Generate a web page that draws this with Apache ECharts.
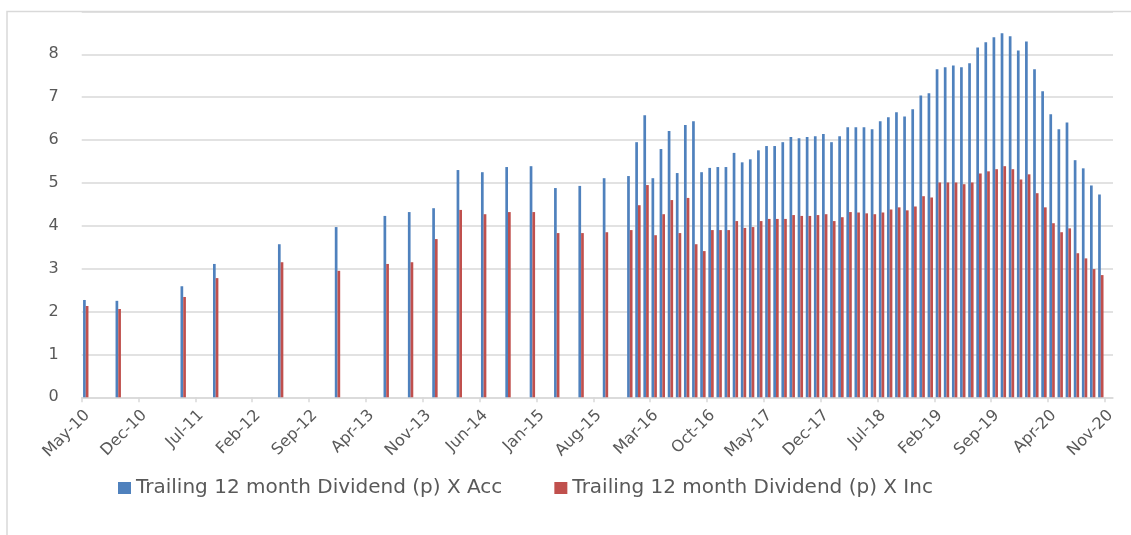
<!DOCTYPE html>
<html><head><meta charset="utf-8">
<script src="https://cdn.jsdelivr.net/npm/echarts@6/dist/echarts.min.js"></script>
<style>html,body{margin:0;padding:0;background:#fff}#c{width:1131px;height:535px}</style>
</head><body><div id="c"></div>
<script>
const barMonths = [
  '2010-05','2010-09','2011-05','2011-09','2012-05','2012-12',
  '2013-06','2013-09','2013-12','2014-03','2014-06','2014-09','2014-12',
  '2015-03','2015-06','2015-09','2015-12',
  '2016-01','2016-02','2016-03','2016-04','2016-05','2016-06','2016-07','2016-08','2016-09','2016-10','2016-11','2016-12',
  '2017-01','2017-02','2017-03','2017-04','2017-05','2017-06','2017-07','2017-08','2017-09','2017-10','2017-11','2017-12',
  '2018-01','2018-02','2018-03','2018-04','2018-05','2018-06','2018-07','2018-08','2018-09','2018-10','2018-11','2018-12',
  '2019-01','2019-02','2019-03','2019-04','2019-05','2019-06','2019-07','2019-08','2019-09','2019-10','2019-11','2019-12',
  '2020-01','2020-02','2020-03','2020-04','2020-05','2020-06','2020-07','2020-08','2020-09','2020-10'
];
const accValues = [
  2.27,2.25,2.59,3.11,3.57,3.97,
  4.23,4.32,4.41,5.30,5.25,5.37,5.39,
  4.88,4.93,5.11,5.16,
  5.95,6.58,5.11,5.79,6.21,5.23,6.35,6.44,5.25,5.35,5.37,5.37,
  5.70,5.48,5.55,5.76,5.86,5.86,5.95,6.07,6.04,6.07,6.09,6.14,
  5.95,6.09,6.30,6.30,6.30,6.25,6.44,6.53,6.65,6.55,6.72,7.04,
  7.09,7.65,7.70,7.74,7.70,7.79,8.16,8.28,8.40,8.49,8.42,8.09,
  8.30,7.65,7.14,6.60,6.25,6.41,5.53,5.34,4.94,4.73
];
const incValues = [
  2.13,2.06,2.34,2.78,3.15,2.95,
  3.11,3.15,3.69,4.37,4.27,4.32,4.32,
  3.83,3.83,3.85,3.90,
  4.48,4.95,3.78,4.27,4.60,3.83,4.65,3.57,3.41,3.90,3.90,3.90,
  4.11,3.95,3.97,4.11,4.16,4.16,4.16,4.25,4.23,4.23,4.25,4.27,
  4.11,4.20,4.32,4.31,4.29,4.27,4.31,4.38,4.43,4.36,4.45,4.69,
  4.66,5.01,5.01,5.01,4.97,5.01,5.22,5.27,5.32,5.39,5.32,5.08,
  5.20,4.76,4.43,4.06,3.85,3.94,3.36,3.24,2.99,2.85
];
const tickLabels = ['May-10','Dec-10','Jul-11','Feb-12','Sep-12','Apr-13','Nov-13','Jun-14','Jan-15','Aug-15',
  'Mar-16','Oct-16','May-17','Dec-17','Jul-18','Feb-19','Sep-19','Apr-20','Nov-20'];
const seriesNames = ['Trailing 12 month Dividend (p) X Acc','Trailing 12 month Dividend (p) X Inc'];

const startYear = 2010, startMonth = 5, tickStep = 7, axisMonths = 127;
function monthIndex(s){ const p = s.split('-').map(Number); return (p[0]-startYear)*12 + (p[1]-startMonth); }
const xs = barMonths.map(s => monthIndex(s) + 0.5);
const tickValues = tickLabels.map((_, i) => i * tickStep);
const txt = '#595959', grid = '#d9d9d9', font = 'DejaVu Sans';

const chart = echarts.init(document.getElementById('c'), null, {renderer:'canvas'});
chart.setOption({
  animation: false,
  backgroundColor: '#fff',
  graphic: [
    {type:'rect', shape:{x:7, y:11.5, width:1300, height:700}, style:{fill:'none', stroke:grid, lineWidth:1.5}, silent:true}
  ],
  grid: {left: 81.7, right: 18, top: 11.4, bottom: 137.7, containLabel: false},
  legend: {
    data: seriesNames, left: 113, top: 473, icon: 'rect', itemWidth: 13, itemHeight: 12, itemGap: 52,
    textStyle: {fontFamily: font, fontSize: 20, color: txt}
  },
  xAxis: {
    type: 'value', min: 0, max: axisMonths,
    axisLine: {show: true, lineStyle: {color: grid, width: 1.5}},
    axisTick: {show: true, length: 5, customValues: tickValues, lineStyle: {color: grid, width: 1.5}},
    axisLabel: {customValues: tickValues, formatter: v => tickLabels[Math.round(v / tickStep)] || '',
      rotate: 45, margin: 10, verticalAlign: 'top', fontFamily: font, fontSize: 16, color: txt},
    splitLine: {show: false}
  },
  yAxis: {
    type: 'value', min: 0, max: 9, interval: 1,
    axisLine: {show: false}, axisTick: {show: false},
    axisLabel: {margin: 23, fontFamily: font, fontSize: 16, color: txt, formatter: v => v >= 9 ? '' : String(v)},
    splitLine: {lineStyle: {color: grid, width: 1.5}}
  },
  series: [
    {name: seriesNames[0], type: 'bar', barWidth: 2.7, barGap: '0%', itemStyle: {color: '#4F81BD'},
     data: xs.map((x, i) => [x, accValues[i]])},
    {name: seriesNames[1], type: 'bar', barWidth: 2.7, barGap: '0%', itemStyle: {color: '#C0504D'},
     data: xs.map((x, i) => [x, incValues[i]])}
  ]
});
</script></body></html>
